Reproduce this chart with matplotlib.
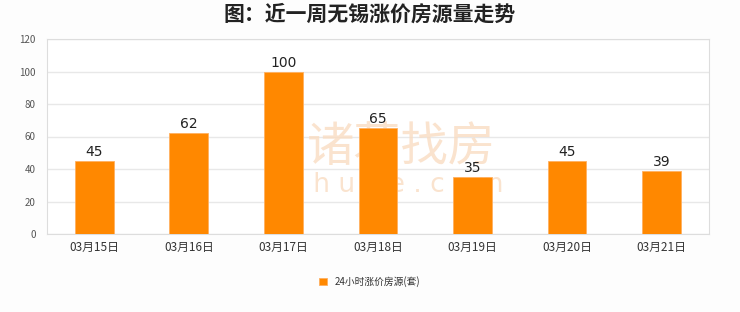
import numpy as np
import matplotlib.pyplot as plt

plt.rcParams["font.family"] = ["Noto Sans CJK SC", "DejaVu Sans"]

dates = ["03月15日", "03月16日", "03月17日", "03月18日", "03月19日", "03月20日", "03月21日"]
counts = [45, 62, 100, 65, 35, 45, 39]
y_ticks = [0, 20, 40, 60, 80, 100, 120]

fig = plt.figure(figsize=(7.4, 3.12), dpi=100, facecolor="#fdfdfd")
ax = fig.add_axes([0.0635, 0.25, 0.8945, 0.625], facecolor="white")

x = np.arange(len(dates))
ax.bar(x, counts, width=0.41, color="#ff8800", edgecolor="#ffb060",
       linewidth=0.6, zorder=3, label="24小时涨价房源(套)")
for xi, v in zip(x, counts):
    ax.text(xi, v + 1.2, str(v), ha="center", va="bottom", fontsize=10,
            color="#222222", family="DejaVu Sans", zorder=4)

ax.set_xlim(-0.5, len(dates) - 0.5)
ax.set_ylim(0, 120)
ax.set_yticks(y_ticks)
ax.set_xticks(x)
ax.set_xticklabels(dates, fontsize=8.5, color="#333333")
ax.tick_params(axis="y", labelsize=7, colors="#555555", length=0, pad=8)
ax.tick_params(axis="x", length=0, pad=5)
ax.grid(axis="y", color="#e8e8e8", linewidth=1, zorder=0)
for s in ax.spines.values():
    s.set_color("#dddddd")

# 水印
ax.text(3.25, 53, "诸葛找房", fontsize=34, color="#f9dcc2", ha="center", va="center",
        zorder=2, alpha=0.8)
ax.text(3.2, 30, "z h u g e . c o m", fontsize=19, color="#f9dcc2", ha="center",
        va="center", family="DejaVu Sans", zorder=2, alpha=0.8)

fig.text(0.5, 0.955, "图：近一周无锡涨价房源量走势", ha="center", va="center",
         fontsize=15, fontweight="bold", color="#222222")

leg = fig.legend(loc="center", bbox_to_anchor=(0.5, 0.097), frameon=False,
                 fontsize=7, handlelength=0.8, handleheight=0.8)
for t in leg.get_texts():
    t.set_color("#333333")

fig.savefig("out.png", dpi=100, facecolor=fig.get_facecolor())
